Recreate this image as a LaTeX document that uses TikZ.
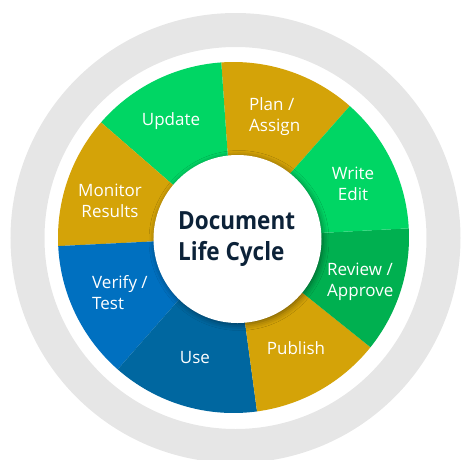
\documentclass[tikz,border=0pt]{standalone}
\usepackage{fontspec}
\setmainfont{Open Sans}
\newfontfamily\ttlfont{Open Sans}[FakeStretch=0.9]
\usetikzlibrary{shadows.blur}
\definecolor{cgreen}{RGB}{0,214,100}
\definecolor{cgold}{RGB}{212,163,8}
\definecolor{cdgreen}{RGB}{0,176,80}
\definecolor{cblue}{RGB}{0,112,192}
\definecolor{cdblue}{RGB}{0,103,160}
\definecolor{cgray}{RGB}{230,230,230}
\definecolor{cnavy}{RGB}{12,34,56}
\tikzset{
  lbl/.style={text=white, font=\fontsize{17}{21}\selectfont, inner sep=0pt},
  ttl/.style={text=cnavy, font=\ttlfont\fontsize{25}{31}\selectfont\bfseries, inner sep=0pt, align=left, anchor=west},
}
\newcommand{\wedgeseg}[3]{\fill[#1] (0,0) -- (#2:175.5) arc[start angle=#2, end angle=#3, radius=175.5] -- cycle;}
\begin{document}
\begin{tikzpicture}[x=1pt,y=1pt]
\useasboundingbox (-233.5,-221.5) rectangle (229.5,237.5);
% gray ring
\fill[cgray, even odd rule] (2,-0.5) circle[radius=225] (2,-0.5) circle[radius=191];
% wedges
\wedgeseg{cgold}{48.5}{94}
\wedgeseg{cgreen}{94}{139}
\wedgeseg{cgold}{139}{182.8}
\wedgeseg{cblue}{182.8}{228.7}
\wedgeseg{cdblue}{228.7}{277.7}
\wedgeseg{cgold}{277.7}{321.3}
\wedgeseg{cdgreen}{321.3}{363}
\wedgeseg{cgreen}{3}{48.5}
% center circle
\node[circle, fill=white, minimum size=168pt, inner sep=0pt,
  blur shadow={shadow xshift=1.5pt, shadow yshift=-1.5pt, shadow blur radius=6pt, shadow opacity=45}] (hub) at (4,-1.5) {};
\node[ttl] (title) at (-55.5,-1.5) {Document\\Life Cycle};
% labels
\node[lbl] (update) at (-62.5,116.5) {Update};
\node[lbl, align=left, anchor=west] (plan) at (15.5,120.5) {Plan /\\Assign};
\node[lbl, align=center] (write) at (119.5,53.5) {Write\\Edit};
\node[lbl, align=left, anchor=west] (review) at (93.5,-44.5) {Review /\\Approve};
\node[lbl] (publish) at (62.5,-110.5) {Publish};
\node[lbl] (use) at (-38.5,-120.5) {Use};
\node[lbl, align=left, anchor=west] (verify) at (-141.5,-55.5) {Verify /\\Test};
\node[lbl, align=center] (monitor) at (-123.5,37) {Monitor\\Results};
\end{tikzpicture}
\end{document}
